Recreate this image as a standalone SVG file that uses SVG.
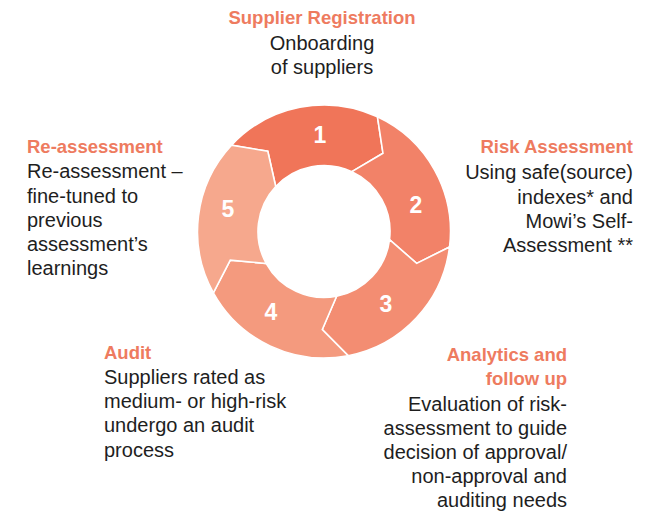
<svg xmlns="http://www.w3.org/2000/svg" width="662" height="515" viewBox="0 0 662 515">
<style>
.seg{stroke:#FFFFFF;stroke-width:1.6;stroke-linejoin:miter}
.num{font-family:"Liberation Sans",Arial,sans-serif;font-weight:bold;font-size:23px;fill:#FFFFFF;text-anchor:middle}
.hd{font-family:"Liberation Sans",Arial,sans-serif;font-weight:bold;font-size:18.5px;fill:#EE7B5F}
.bd{font-family:"Liberation Sans",Arial,sans-serif;font-size:20px;fill:#1E1E1E}
.mid{text-anchor:middle}
.end{text-anchor:end}
</style>
<rect width="662" height="515" fill="#FFFFFF"/>
<g id="cycle">
<g id="seg1">
<path class="seg" fill="#F07559" d="M231.48,145.23 A126.5,126.5 0 0 1 377.46,116.85 L382.98,153.24 L351.89,171.68 A66,66 0 0 0 275.73,186.49 L267.79,151.22 Z"/>
<text class="num" x="320" y="143">1</text>
</g>
<g id="seg2">
<path class="seg" fill="#F28268" d="M377.46,116.85 A126.5,126.5 0 0 1 449.55,246.92 L416.66,263.41 L389.51,239.55 A66,66 0 0 0 351.89,171.68 L382.98,153.24 Z"/>
<text class="num" x="416" y="213">2</text>
</g>
<g id="seg3">
<path class="seg" fill="#F38D72" d="M449.55,246.92 A126.5,126.5 0 0 1 348.14,355.67 L322.29,329.49 L336.59,296.29 A66,66 0 0 0 389.51,239.55 L416.66,263.41 Z"/>
<text class="num" x="386" y="311.5">3</text>
</g>
<g id="seg4">
<path class="seg" fill="#F49A7E" d="M348.14,355.67 A126.5,126.5 0 0 1 213.36,292.83 L230.28,260.16 L266.28,263.50 A66,66 0 0 0 336.59,296.29 L322.29,329.49 Z"/>
<text class="num" x="271" y="320">4</text>
</g>
<g id="seg5">
<path class="seg" fill="#F6A88D" d="M213.36,292.83 A126.5,126.5 0 0 1 231.48,145.23 L267.79,151.22 L275.73,186.49 A66,66 0 0 0 266.28,263.50 L230.28,260.16 Z"/>
<text class="num" x="228" y="217">5</text>
</g>
</g>
<g id="connectors"></g>
<g id="label-registration">
<text class="hd mid" x="322" y="24">Supplier Registration</text>
<text class="bd mid" x="322" y="50">Onboarding</text>
<text class="bd mid" x="322" y="74">of suppliers</text>
</g>
<g id="label-risk">
<text class="hd end" x="633" y="153">Risk Assessment</text>
<text class="bd end" x="633" y="179">Using safe(source)</text>
<text class="bd end" x="633" y="203.5">indexes* and</text>
<text class="bd end" x="633" y="227.5">Mowi’s Self-</text>
<text class="bd end" x="633" y="251.5">Assessment **</text>
</g>
<g id="label-analytics">
<text class="hd end" x="567" y="361">Analytics and</text>
<text class="hd end" x="567" y="385">follow up</text>
<text class="bd end" x="567" y="410.5">Evaluation of risk-</text>
<text class="bd end" x="567" y="434.5">assessment to guide</text>
<text class="bd end" x="567" y="458.5">decision of approval/</text>
<text class="bd end" x="567" y="482.5">non-approval and</text>
<text class="bd end" x="567" y="506.5">auditing needs</text>
</g>
<g id="label-audit">
<text class="hd" x="104" y="358.5">Audit</text>
<text class="bd" x="104" y="384">Suppliers rated as</text>
<text class="bd" x="104" y="408">medium- or high-risk</text>
<text class="bd" x="104" y="432">undergo an audit</text>
<text class="bd" x="104" y="456.5">process</text>
</g>
<g id="label-reassessment">
<text class="hd" x="27" y="153">Re-assessment</text>
<text class="bd" x="27" y="178">Re-assessment –</text>
<text class="bd" x="27" y="202.5">fine-tuned to</text>
<text class="bd" x="27" y="226.5">previous</text>
<text class="bd" x="27" y="250.5">assessment’s</text>
<text class="bd" x="27" y="275">learnings</text>
</g>
</svg>
